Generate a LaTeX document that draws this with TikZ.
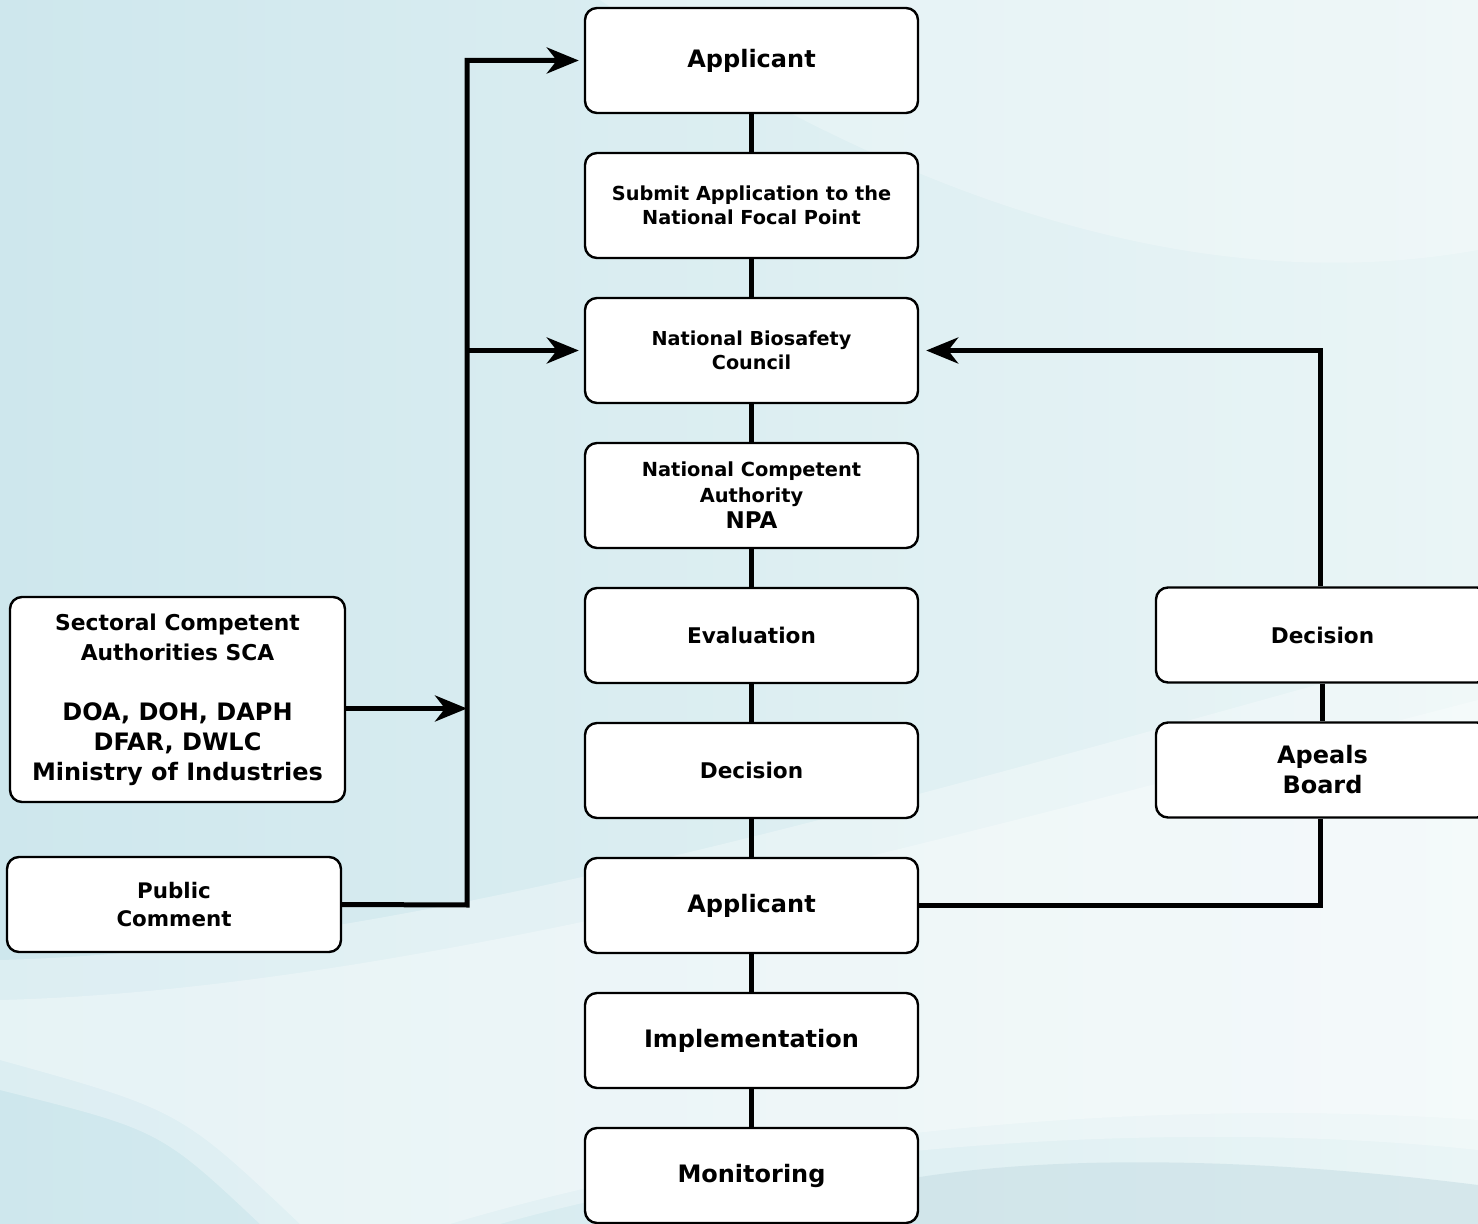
\documentclass[tikz,border=0pt]{standalone}
\usepackage{fontspec}
\setmainfont{DejaVu Sans}
\usetikzlibrary{arrows.meta,positioning}
\definecolor{bgleft}{RGB}{206,231,237}
\definecolor{bgright}{RGB}{234,245,246}
\definecolor{bgband}{RGB}{200,223,229}
\newcommand{\txt}[2]{\fontsize{#1}{#2}\selectfont\bfseries}

\begin{document}
\begin{tikzpicture}[
    x=0.5pt, y=-0.5pt,
    node distance=18.8pt,
    box/.style={rectangle, rounded corners=6pt, draw, line width=1.2pt, fill=white, minimum width=166.5pt, minimum height=52.5pt, align=center, inner sep=2pt},
    lowbox/.style={box, minimum height=47.5pt},
    link/.style={line width=2.5pt},
    arrow/.style={link, -{Stealth[length=16pt,width=13pt,inset=5pt]}, shorten >=2.5pt}
]
    % background
    \useasboundingbox (0,0) rectangle (1478,1224);
    \clip (0,0) rectangle (1478,1224);
    \fill[left color=bgleft, right color=bgright] (0,0) rectangle (1478,1224);
    \fill[white, opacity=.25] (600,0) .. controls (900,200) and (1200,300) .. (1478,250) -- (1478,0) -- cycle;
    \fill[white, opacity=.3] (0,960) .. controls (400,950) and (900,800) .. (1478,640) -- (1478,1150) .. controls (1200,1120) and (800,1140) .. (500,1224) -- (260,1224) .. controls (160,1130) .. (0,1090) -- cycle;
    \fill[white, opacity=.3] (0,1000) .. controls (400,990) and (900,850) .. (1478,700) -- (1478,1120) .. controls (1200,1100) and (800,1120) .. (450,1224) -- (300,1224) .. controls (180,1110) .. (0,1060) -- cycle;
    \fill[bgband, opacity=.6] (760,1224) .. controls (900,1150) and (1200,1150) .. (1478,1185) -- (1478,1224) -- cycle;

    % main column
    \node[box, font=\txt{12}{15}] (app1) at (751.5,60.5) {Applicant};
    \node[box, font=\txt{9.65}{12}, below=of app1] (submit) {Submit Application to the\\National Focal Point};
    \node[box, font=\txt{9.6}{12}, below=of submit] (nbc) {National Biosafety\\Council};
    \node[box, font=\txt{9.7}{13}, below=of nbc] (nca) {National Competent\\Authority\\\fontsize{11.5}{14}\selectfont NPA};
    \node[lowbox, font=\txt{10.8}{14}, below=of nca] (eval) {Evaluation};
    \node[lowbox, font=\txt{10.8}{14}, below=of eval] (dec) {Decision};
    \node[lowbox, font=\txt{12}{15}, below=of dec] (app2) {Applicant};
    \node[lowbox, font=\txt{12}{15}, below=of app2] (impl) {Implementation};
    \node[lowbox, font=\txt{12}{15}, below=of impl] (mon) {Monitoring};

    % left side
    \node[box, minimum width=167.5pt, minimum height=102.5pt, font=\txt{12}{15}] (sca) at (177.5,699.5)
        {\fontsize{10.9}{15}\selectfont Sectoral Competent\\\fontsize{10.9}{15}\selectfont Authorities SCA\\[15pt]DOA, DOH, DAPH\\DFAR, DWLC\\Ministry of Industries};
    \node[lowbox, minimum width=167pt, font=\txt{10.7}{14}] (pc) at (174,904.5) {Public\\Comment};

    % right side
    \node[lowbox, font=\txt{10.8}{14}] (dec2) at (1322.5,635) {Decision};
    \node[lowbox, font=\txt{12}{15}, below=of dec2] (board) {Apeals\\Board};

    % connectors
    \foreach \a/\b in {app1/submit, submit/nbc, nbc/nca, nca/eval, eval/dec, dec/app2, app2/impl, impl/mon, dec2/board}
        \draw[link] (\a) -- (\b);

    \coordinate (bend) at (467,905);
    \coordinate (scaout) at ([yshift=-4.5pt]sca.east);
    \draw[arrow] (pc.east) -- (bend) |- (app1.west);
    \draw[arrow] (bend |- nbc.west) -- (nbc.west);
    \draw[arrow, shorten >=0pt] (scaout) -- (bend |- scaout);
    \draw[arrow, shorten >=3.5pt] ([xshift=-1pt]dec2.north) |- (nbc.east);
    \draw[link] ([xshift=-1pt]board.south) |- (app2.east);
\end{tikzpicture}
\end{document}
